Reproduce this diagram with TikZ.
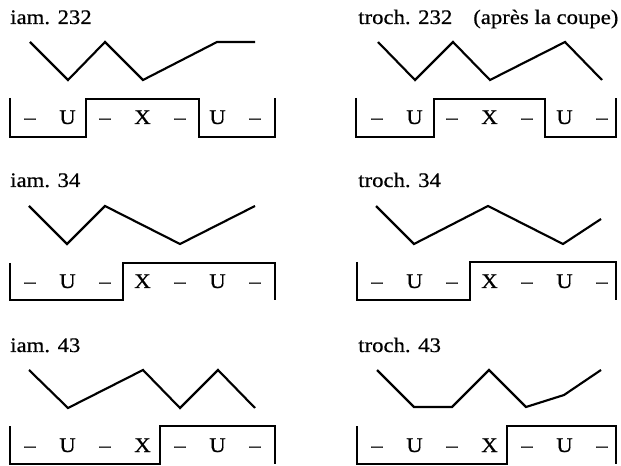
\documentclass[tikz,border=0pt]{standalone}
\usepackage{fontspec}
\setmainfont{Liberation Serif}[FakeStretch=1.1,FakeBold=0.6]
\begin{document}
\begin{tikzpicture}[x=0.75pt,y=-0.75pt,
  zig/.style={line width=1.6pt,line join=miter},
  boxline/.style={line width=1.1pt},
  title/.style={anchor=base west,inner sep=0pt,font=\fontsize{15.5}{18}\selectfont},
  syl/.style={anchor=base,inner sep=0pt,font=\fontsize{15.5}{18}\selectfont}]
\useasboundingbox (0,0) rectangle (621,466);
% ---------- iam. 232 ----------
\node[title] (t1) at (10,24) {iam. 232};
\draw[zig] (30,42) -- (68,80) -- (105,42) -- (143,80) -- (217,42) -- (255,42);
\draw[boxline] (10,98) -- (10,137) -- (86,137) -- (86,99) -- (199,99) -- (199,137) -- (275,137) -- (275,98);
\foreach \t [count=\i] in {--,U,--,X,--,U,--}
  \node[syl] (a\i) at ({30+37.5*(\i-1)},124) {\t};
% ---------- troch. 232 ----------
\node[title] (t2) at (358,24) {troch. 232};
\node[title] (t2b) at (473,24) {(après la coupe)};
\draw[zig] (378,42) -- (415,80) -- (453,42) -- (490,80) -- (565,42) -- (602,80);
\draw[boxline] (356,98) -- (356,137) -- (434,137) -- (434,99) -- (545,99) -- (545,137) -- (616,137) -- (616,98);
\foreach \t [count=\i] in {--,U,--,X,--,U,--}
  \node[syl] (b\i) at ({377+37.5*(\i-1)},124) {\t};
% ---------- iam. 34 ----------
\node[title] (t3) at (10,187) {iam. 34};
\draw[zig] (29,206) -- (67,244) -- (105,206) -- (180,244) -- (255,206);
\draw[boxline] (10,263) -- (10,300) -- (123,300) -- (123,263) -- (275,263) -- (275,300);
\foreach \t [count=\i] in {--,U,--,X,--,U,--}
  \node[syl] (c\i) at ({30+37.5*(\i-1)},288) {\t};
% ---------- troch. 34 ----------
\node[title] (t4) at (358,187) {troch. 34};
\draw[zig] (376,206) -- (414,244) -- (488,206) -- (563,244) -- (601,219);
\draw[boxline] (357,262) -- (357,300) -- (470,300) -- (470,262) -- (616,262) -- (616,300);
\foreach \t [count=\i] in {--,U,--,X,--,U,--}
  \node[syl] (d\i) at ({377+37.5*(\i-1)},288) {\t};
% ---------- iam. 43 ----------
\node[title] (t5) at (10,352) {iam. 43};
\draw[zig] (29,370) -- (68,408) -- (143,370) -- (180,408) -- (218,370) -- (255,408);
\draw[boxline] (10,426) -- (10,464) -- (160,464) -- (160,426) -- (275,426) -- (275,464);
\foreach \t [count=\i] in {--,U,--,X,--,U,--}
  \node[syl] (e\i) at ({30+37.5*(\i-1)},452) {\t};
% ---------- troch. 43 ----------
\node[title] (t6) at (358,352) {troch. 43};
\draw[zig] (377,370) -- (414,407) -- (452,407) -- (489,370) -- (526,407) -- (564,395) -- (601,370);
\draw[boxline] (357,426) -- (357,464) -- (507,464) -- (507,426) -- (616,426) -- (616,464);
\foreach \t [count=\i] in {--,U,--,X,--,U,--}
  \node[syl] (f\i) at ({377+37.5*(\i-1)},452) {\t};
\end{tikzpicture}
\end{document}
